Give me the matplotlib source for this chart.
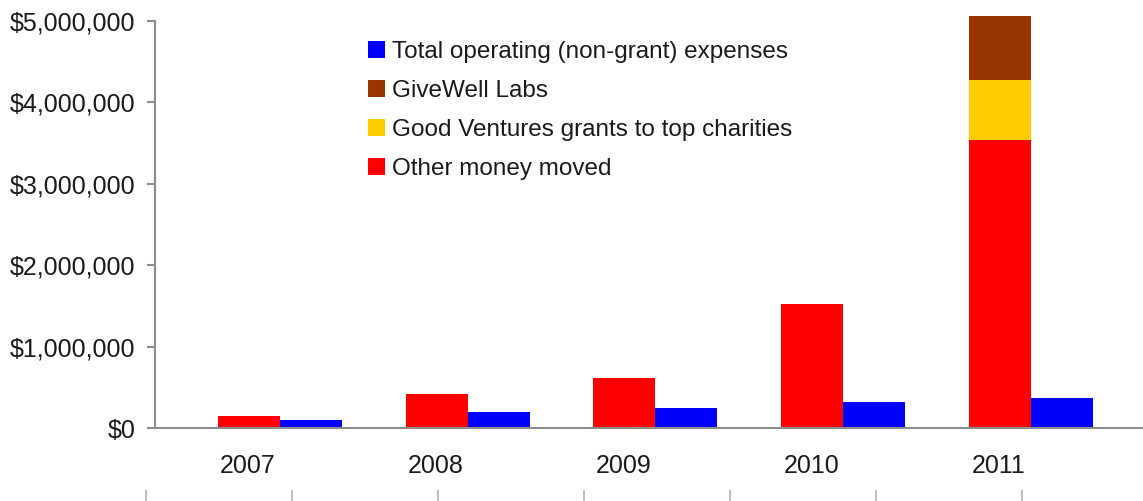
import numpy as np
import matplotlib
matplotlib.use('Agg')
import matplotlib.pyplot as plt
from matplotlib.ticker import FuncFormatter

# data
years = ['2007', '2008', '2009', '2010', '2011']
other_moved = [150000, 414000, 614000, 1520000, 3540000]
good_ventures = [0, 0, 0, 0, 735000]
givewell_labs = [0, 0, 0, 0, 790000]
operating = [102000, 197000, 246000, 316000, 365000]

plt.rcParams['font.family'] = ['Liberation Sans', 'DejaVu Sans']
plt.rcParams['font.size'] = 18
text_col = '#1a1a1a'

fig = plt.figure(figsize=(11.43, 5.01), dpi=100)
ax = fig.add_axes([155 / 1143, 73 / 501, 1 - 155 / 1143, 407 / 501])

x = np.arange(len(years))
w = 0.33
b_red = ax.bar(x - w / 2, other_moved, w, color='#ff0000', label='Other money moved', clip_on=False)
bottom2 = np.array(other_moved)
b_yel = ax.bar(x - w / 2, good_ventures, w, bottom=bottom2, color='#ffcc00',
               label='Good Ventures grants to top charities', clip_on=False)
bottom3 = bottom2 + np.array(good_ventures)
b_brn = ax.bar(x - w / 2, givewell_labs, w, bottom=bottom3, color='#993300',
               label='GiveWell Labs', clip_on=False)
b_blu = ax.bar(x + w / 2, operating, w, color='#0000ff',
               label='Total operating (non-grant) expenses', clip_on=False)

ax.set_ylim(0, 5000000)
ax.set_xlim(-0.665, 4.597)
ax.set_yticks(np.arange(0, 5000001, 1000000))
ax.yaxis.set_major_formatter(FuncFormatter(lambda v, p: '${:,.0f}'.format(v)))
ax.set_xticks(x - 0.17)
ax.set_xticklabels(years)

for s in ['top', 'right']:
    ax.spines[s].set_visible(False)
for s in ['left', 'bottom']:
    ax.spines[s].set_color('#8c8c8c')
    ax.spines[s].set_linewidth(1.5)
ax.tick_params(axis='y', direction='out', length=6, width=1.5, color='#8c8c8c',
               pad=8, labelcolor=text_col)
ax.tick_params(axis='x', length=0, pad=19, labelcolor=text_col)

leg = ax.legend([b_blu, b_brn, b_yel, b_red],
                [b_blu.get_label(), b_brn.get_label(), b_yel.get_label(), b_red.get_label()],
                loc='upper left', bbox_to_anchor=(368 / 1143, 1 - 41 / 501),
                bbox_transform=fig.transFigure, frameon=False, borderpad=0,
                borderaxespad=0, handlelength=0.68, handleheight=0.68,
                handletextpad=0.3, labelspacing=0.7, fontsize=17.5)
for t in leg.get_texts():
    t.set_color(text_col)

# stray tick marks along the bottom edge
ax2 = fig.add_axes([0, 0, 1, 0.03])
ax2.set_xlim(0, 1143)
ax2.set_xticks(np.arange(146, 1100, 146))
ax2.set_yticks([])
ax2.tick_params(axis='x', direction='in', length=8, width=1.2, color='#b4b4b4',
                labelbottom=False)
for s in ax2.spines.values():
    s.set_visible(False)
ax2.patch.set_alpha(0)

fig.savefig('out.png', dpi=100)
